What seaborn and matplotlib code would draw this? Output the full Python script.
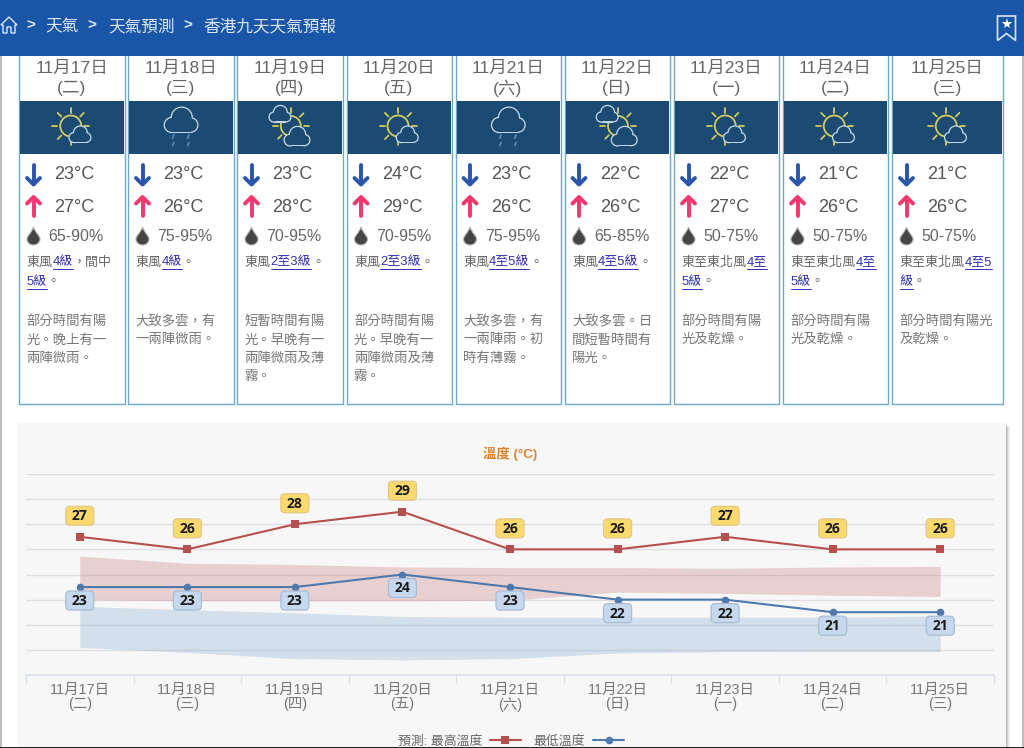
"""香港九天天氣預報 page with the temperature forecast chart"""
import re
import numpy as np
import pandas as pd
import seaborn as sns
from matplotlib import pyplot as plt
from matplotlib.patches import Rectangle, Circle, FancyBboxPatch, Polygon, PathPatch
from matplotlib.path import Path
from matplotlib.transforms import IdentityTransform

# data read from the page
dates = ["11月17日", "11月18日", "11月19日", "11月20日", "11月21日", "11月22日", "11月23日", "11月24日", "11月25日"]
weekdays = ["二", "三", "四", "五", "六", "日", "一", "二", "三"]
low_temp = [23, 23, 23, 24, 23, 22, 22, 21, 21]
high_temp = [27, 26, 28, 29, 26, 26, 27, 26, 26]
high_band_top = [25.46, 24.9, 24.8, 24.6, 24.55, 24.55, 24.5, 24.6, 24.65]
high_band_bottom = [22.0, 21.9, 21.9, 21.9, 21.95, 22.6, 22.5, 22.35, 22.25]
low_band_top = [21.46, 21.2, 20.95, 20.66, 20.6, 20.6, 20.6, 20.6, 20.7]
low_band_bottom = [18.2, 17.8, 17.3, 17.2, 17.3, 17.75, 17.85, 17.87, 17.87]
humidity = ["65-90%", "75-95%", "70-95%", "70-95%", "75-95%", "65-85%", "50-75%", "50-75%", "50-75%"]
icons = ["sun", "rain", "mixed", "sun", "rain", "mixed", "sun", "sun", "sun"]
# [] marks the linked part of the wind text
wind = [["東風[4級]，間中", "[5級]。"], ["東風[4級]。"], ["東風[2至3級]。"], ["東風[2至3級]。"],
        ["東風[4至5級]。"], ["東風[4至5級]。"], ["東至東北風[4至", "5級]。"], ["東至東北風[4至", "5級]。"],
        ["東至東北風[4至5", "級]。"]]
details = [["部分時間有陽", "光。晚上有一", "兩陣微雨。"],
           ["大致多雲，有", "一兩陣微雨。"],
           ["短暫時間有陽", "光。早晚有一", "兩陣微雨及薄", "霧。"],
           ["部分時間有陽", "光。早晚有一", "兩陣微雨及薄", "霧。"],
           ["大致多雲，有", "一兩陣雨。初", "時有薄霧。"],
           ["大致多雲。日", "間短暫時間有", "陽光。"],
           ["部分時間有陽", "光及乾燥。"],
           ["部分時間有陽", "光及乾燥。"],
           ["部分時間有陽光", "及乾燥。"]]
crumbs = ["天氣", "天氣預測", "香港九天天氣預報"]

# page layout in pixels
card_left = [19, 128, 237, 346.5, 455.5, 564.5, 674, 783, 892]
card_right = [124.5, 233.5, 342.5, 451.5, 560.5, 669.5, 778.5, 887.5, 1002.5]
band_color = "#1b4a72"
sun_color = "#d6cb5c"
cloud_color = "#c4d8e8"

sns.set_theme(style="white")
plt.rcParams['font.family'] = ['Liberation Sans', 'Noto Sans CJK TC']

fig = plt.figure(figsize=(10.24, 7.48), dpi=100, facecolor="white")
page = fig.add_axes([0, 0, 1, 1], zorder=0)
page.set_xlim(0, 1024)
page.set_ylim(748, 0)
page.axis("off")


def rect(x0, y0, x1, y1, **kw):
    page.add_patch(Rectangle((x0, y0), x1 - x0, y1 - y0, linewidth=kw.pop("lw", 0), **kw))


def cloud(cx, cy, w, z=4):
    """outlined cloud, the outline comes from drawing the lumps twice"""
    lumps = [(-0.27, 0.12, 0.21), (0.03, -0.1, 0.3), (0.3, 0.12, 0.2)]
    base = 0.32 * w
    for grow, col, zz in [(1.3, cloud_color, z), (0, band_color, z + 0.1)]:
        for dx, dy, r in lumps:
            page.add_patch(Circle((cx + dx * w, cy + dy * w), r * w + grow, fc=col, lw=0, zorder=zz))
        rect(cx - 0.27 * w, cy + 0.12 * w, cx + 0.3 * w, cy + base + grow, fc=col, zorder=zz)


def sun(cx, cy, r):
    page.add_patch(Circle((cx, cy), r, fc="none", ec=sun_color, lw=1.3, zorder=3))
    for a in np.deg2rad(np.arange(0, 360, 45)):
        page.plot([cx + (r + 3) * np.cos(a), cx + (r + 8) * np.cos(a)],
                  [cy + (r + 3) * np.sin(a), cy + (r + 8) * np.sin(a)],
                  color=sun_color, lw=1.3, solid_capstyle="round", zorder=3)


def draw_icon(kind, cx):
    if kind == "sun":
        sun(cx - 1, 126, 10.5)
        cloud(cx + 8, 135, 21)
    elif kind == "rain":
        cloud(cx, 121, 33)
        for dx in (-7.5, 7.5):
            for y in (136.5, 144):
                page.plot([cx + dx + 0.6, cx + dx - 0.6], [y - 1.6, y + 1.6], color="#5a8ab0", lw=1.3, zorder=3)
    else:
        sun(cx + 1, 126, 10)
        cloud(cx - 10, 114.5, 21)
        cloud(cx + 7, 137, 25)


def draw_arrow(x, y0, y1, col):
    # y0 is the tail, y1 the head
    d = 1 if y1 > y0 else -1
    page.plot([x, x], [y0, y1 - d], color=col, lw=2.8, solid_capstyle="round", zorder=3)
    page.plot([x - 6.5, x, x + 6.5], [y1 - d * 6.5, y1, y1 - d * 6.5], color=col, lw=2.8,
              solid_capstyle="round", solid_joinstyle="round", zorder=3)


def draw_drop(x, y):
    verts = [(x, y - 9), (x + 2, y - 3), (x + 6.5, y), (x + 6.5, y + 3), (x + 6.5, y + 7), (x + 3, y + 9),
             (x, y + 9), (x - 3, y + 9), (x - 6.5, y + 7), (x - 6.5, y + 3), (x - 6.5, y), (x - 2, y - 3), (x, y - 9)]
    codes = [Path.MOVETO] + [Path.CURVE4] * 12
    page.add_patch(PathPatch(Path(verts, codes), fc="#454545", ec="#b5b5b5", lw=0.8, zorder=3))


def wind_line(x, y, line, in_link):
    """write one line of wind text piece by piece, links in blue with underline"""
    renderer = fig.canvas.get_renderer()
    parts = re.split(r"(\[|\])", line)
    for part in parts:
        if part == "[":
            in_link = True
        elif part == "]":
            in_link = False
        elif part:
            t = page.text(x, y, part, fontsize=9.4, va="center", ha="left", zorder=3,
                          color="#3030b0" if in_link else "#666666")
            w = t.get_window_extent(renderer).width
            if in_link:
                page.plot([x, x + w], [y + 6.5, y + 6.5], color="#3030b0", lw=0.7, zorder=3)
            x += w
    return in_link


# cards
for i in range(len(dates)):
    left, right = card_left[i], card_right[i]
    mid = (left + right) / 2
    rect(left, 48, right, 403.5, fc="white", ec="#6aa9c8", lw=1, zorder=1)
    rect(left + 1, 100.5, right - 0.5, 153.5, fc=band_color, zorder=2)
    page.text(mid, 68, dates[i], fontsize=12.6, color="#666666", ha="center", va="center", zorder=3)
    page.text(mid, 88, "(" + weekdays[i] + ")", fontsize=12.6, color="#666666", ha="center", va="center", zorder=3)
    draw_icon(icons[i], mid)
    draw_arrow(left + 14.5, 164.5, 184.5, "#2b55a8")
    draw_arrow(left + 14.5, 216, 197, "#f0376e")
    page.text(left + 55.5, 174, str(low_temp[i]) + "°C", fontsize=13, color="#555555", ha="center", va="center", zorder=3)
    page.text(left + 55.5, 207, str(high_temp[i]) + "°C", fontsize=13, color="#555555", ha="center", va="center", zorder=3)
    draw_drop(left + 14.5, 236)
    page.text(left + 57, 236, humidity[i], fontsize=11.5, color="#666666", ha="center", va="center", zorder=3)
    link = False
    for j, line in enumerate(wind[i]):
        link = wind_line(left + 7.5, 262.5 + j * 19.5, line, link)
    for j, line in enumerate(details[i]):
        page.text(left + 7.5, 321.5 + j * 18.6, line, fontsize=9.6, color="#777777", ha="left", va="center", zorder=3)

# page frame, header and chart panel
rect(0, 0, 1.5, 748, fc="#bdbdbd", zorder=1)
rect(1021.5, 0, 1024, 748, fc="#bdbdbd", zorder=1)
for k, a in enumerate([0.28, 0.18, 0.1, 0.05]):
    rect(1006 + k, 426, 1007 + k, 748, fc="black", alpha=a, zorder=1)
rect(18, 423, 1006, 748, fc="#f7f7f7", zorder=1.5)
rect(0, 0, 1024, 55.5, fc="#1a56a8", zorder=6)
rect(0, 747, 1024, 748, fc="#222222", zorder=6)

head = "#dbe6f5"
page.add_patch(Polygon([(1, 25), (9, 17), (17, 25), (15, 25), (15, 33), (11, 33), (11, 27), (7, 27), (7, 33), (3, 33), (3, 25)],
                       fc="none", ec=head, lw=1, zorder=7))
for x, txt in zip([45.5, 108.5, 203.5], crumbs):
    page.text(x, 26.5, txt, fontsize=12, color=head, ha="left", va="center", zorder=7)
for x in [30.5, 92, 188]:
    page.text(x, 26, ">", fontsize=11, color=head, ha="center", va="center", zorder=7, fontweight="bold")
page.add_patch(Polygon([(997.5, 16), (1015.5, 16), (1015.5, 40.5), (1006.5, 33.5), (997.5, 40.5)],
                       fc="none", ec=head, lw=1.2, zorder=7))
page.plot([1006.5], [23.5], marker="*", ms=8, color="white", mew=0, zorder=7)

# temperature chart
ax = fig.add_axes([26 / 1024, 1 - 675 / 748, 968 / 1024, 201 / 748], zorder=2)
ax.patch.set_alpha(0)
positions = np.arange(len(dates))
df = pd.DataFrame({"pos": positions, "high": high_temp, "low": low_temp})

ax.fill_between(positions, high_band_bottom, high_band_top, color="#b85450", alpha=0.24, lw=0, zorder=1)
ax.fill_between(positions, low_band_bottom, low_band_top, color="#4a80c0", alpha=0.2, lw=0, zorder=1)
sns.lineplot(data=df, x="pos", y="high", ax=ax, color="#b5504e", marker="s", markersize=5.8,
             markeredgewidth=0, linewidth=1.5, label="預測: 最高溫度", zorder=3)
sns.lineplot(data=df, x="pos", y="low", ax=ax, color="#4f79ad", marker="o", markersize=5.5,
             markeredgewidth=0, linewidth=1.5, label="最低溫度", zorder=3)

ax.set_xlim(-0.5, len(dates) - 0.5)
ax.set_ylim(16, 32)
ax.set_xlabel("")
ax.set_ylabel("")
ax.set_yticks(np.arange(16, 33, 2))
ax.set_yticklabels([])
ax.set_axisbelow(True)
ax.grid(axis="y", color="#dfdfe3", linewidth=1)
ax.grid(axis="x", visible=False)
ax.set_xticks(positions)
ax.set_xticklabels([d + "\n(" + w + ")" for d, w in zip(dates, weekdays)], fontsize=10.4, color="#777777", linespacing=1.05)
ax.set_xticks(np.arange(-0.5, len(dates)), minor=True)
ax.tick_params(axis="x", which="major", length=0, pad=5.5)
ax.tick_params(axis="x", which="minor", bottom=True, length=6, width=1, color="#d8dfeb")
ax.tick_params(axis="y", length=0)
sns.despine(ax=ax, left=True, top=True, right=True)
ax.spines["bottom"].set_color("#d8dfeb")
ax.spines["bottom"].set_linewidth(1.2)
ax.set_title("溫度 (°C)", fontsize=9.6, color="#e0812e", fontweight="bold", pad=11.5)

# value badges sit a fixed pixel distance from their points
for values, dy, fill, edge in [(high_temp, 21, "#fbd96f", "#e3c987"), (low_temp, -13.5, "#c5d8ee", "#a9bdd6")]:
    for i, v in enumerate(values):
        px, py = ax.transData.transform((i, v))
        ax.add_patch(FancyBboxPatch((px - 14, py + dy - 9.5), 28, 19, boxstyle="round,pad=0,rounding_size=4",
                                    fc=fill, ec=edge, lw=0.9, transform=IdentityTransform(), zorder=5, clip_on=False))
        ax.annotate(str(v), (i, v), xytext=(0, dy - 0.5), textcoords="offset pixels", ha="center", va="center",
                    fontsize=10, family="Open Sans", fontweight="bold", color="#1a1a1a", zorder=6, annotation_clip=False)

ax.legend(loc="center", bbox_to_anchor=(511 / 1024, 1 - 741.5 / 748), bbox_transform=fig.transFigure, ncols=2,
          frameon=False, markerfirst=False, fontsize=9.3, labelcolor="#666666", handlelength=2.4,
          handletextpad=0.6, columnspacing=1.0, borderpad=0)

fig.savefig("out.png", dpi=100)
